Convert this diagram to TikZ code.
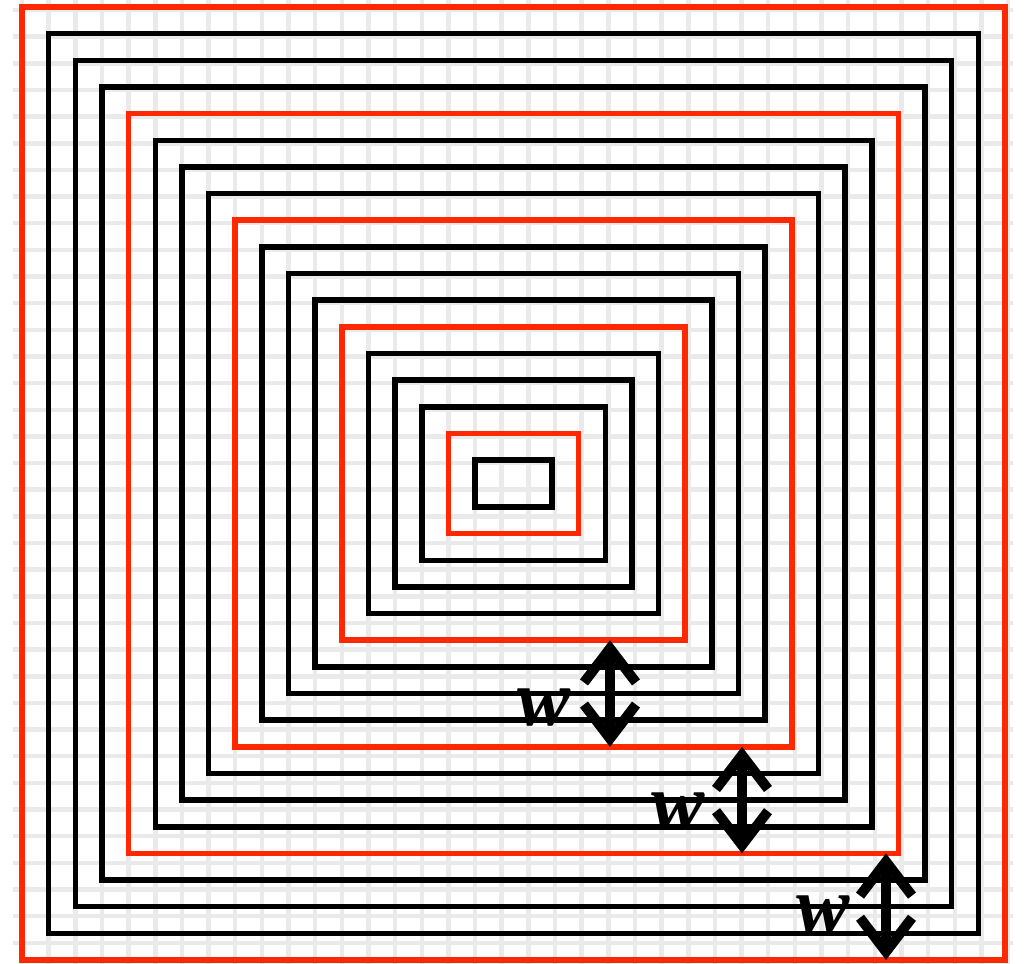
\documentclass[tikz,border=0pt]{standalone}
\usepackage{fontspec}
\setmainfont{Liberation Serif}
\newfontfamily\wfont{Liberation Serif}[UprightFont={* Bold Italic}]
\usetikzlibrary{arrows.meta}
\definecolor{redline}{RGB}{255,40,0}
\definecolor{gridgray}{RGB}{234,234,234}
\tikzset{
  gridline/.style={draw=gridgray,line width=4.5},
  ring/.style={line width=5.5,line join=miter},
  dbl/.style={line width=10,
    {Straight Barb[length=34pt,width=52pt]}-{Straight Barb[length=34pt,width=52pt]}},
  wlab/.style={inner sep=0pt,font=\fontsize{80}{80}\selectfont\wfont}
}
\begin{document}
\begin{tikzpicture}[x=1pt,y=-1pt]
\useasboundingbox (0,0) rectangle (1029,964);
\fill[white] (0,0) rectangle (1029,964);
% background grid
\foreach \j in {0,...,37}{
  \draw[gridline] (22+26.65*\j,0) -- (22+26.65*\j,964);
}
\foreach \j in {0,...,36}{
  \draw[gridline] (13,10+26.65*\j) -- (1013,10+26.65*\j);
}
% concentric rectangles
\foreach \k in {0,...,17}{
  \pgfmathsetmacro{\d}{26.65*\k}
  \pgfmathtruncatemacro{\m}{mod(\k,4)}
  \ifnum\m=0 \def\c{redline}\else\def\c{black}\fi
  \draw[ring,draw=\c] (22+\d,7+\d) rectangle (1005-\d,960-\d);
}
% arrow end points
\coordinate (a1t) at (610,640.2);
\coordinate (a1b) at (610,746.8);
\coordinate (a2t) at (742,746.8);
\coordinate (a2b) at (742,853.4);
\coordinate (a3t) at (886,853.4);
\coordinate (a3b) at (886,960);
\draw[dbl] (a1t) -- (a1b);
\draw[dbl] (a2t) -- (a2b);
\draw[dbl] (a3t) -- (a3b);
\node[wlab] (w1) at (544,708) {w};
\node[wlab] (w2) at (678,812) {w};
\node[wlab] (w3) at (823,915) {w};
\end{tikzpicture}
\end{document}
